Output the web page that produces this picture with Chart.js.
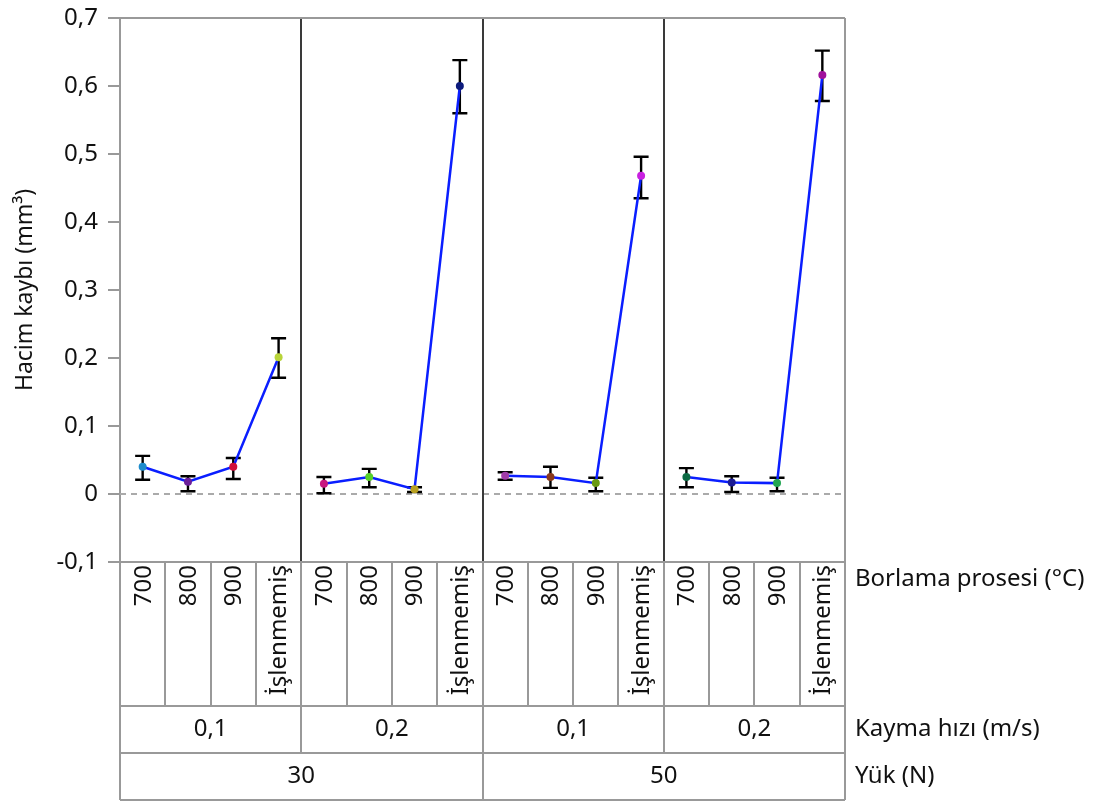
<!DOCTYPE html>
<html>
<head>
    <meta charset="utf-8" />
    <title>Hacim kaybı</title>
    <script src="https://cdn.jsdelivr.net/npm/chart.js"></script>
    <style>
        body { margin: 0; background: #fff; }
        canvas { display: block; }
    </style>
</head>
<body>
    <canvas id="chart" width="1103" height="804"></canvas>
    <script>
        // factor levels
        const borlama = ['700', '800', '900', 'İşlenmemiş'];
        const kayma = ['0,1', '0,2', '0,1', '0,2'];
        const yuk = ['30', '50'];

        // mean volume loss (mm3) per group: yük_kayma
        const hacim_30_01 = [0.040, 0.018, 0.040, 0.201];
        const hacim_30_02 = [0.015, 0.025, 0.007, 0.600];
        const hacim_50_01 = [0.027, 0.025, 0.016, 0.468];
        const hacim_50_02 = [0.025, 0.017, 0.016, 0.616];

        // error bar limits
        const alt_30_01 = [0.021, 0.004, 0.022, 0.171];
        const ust_30_01 = [0.056, 0.026, 0.053, 0.229];
        const alt_30_02 = [0.001, 0.010, 0.003, 0.560];
        const ust_30_02 = [0.025, 0.037, 0.010, 0.638];
        const alt_50_01 = [0.021, 0.009, 0.004, 0.435];
        const ust_50_01 = [0.032, 0.040, 0.024, 0.496];
        const alt_50_02 = [0.010, 0.003, 0.004, 0.578];
        const ust_50_02 = [0.038, 0.026, 0.024, 0.652];

        const renk_30_01 = ['#1e8ccc', '#6b1f9a', '#d0103c', '#b8d43a'];
        const renk_30_02 = ['#c8187e', '#58d12a', '#b8a020', '#0c1a7c'];
        const renk_50_01 = ['#a03ca8', '#8a3a1c', '#6a9a12', '#c820e0'];
        const renk_50_02 = ['#0c6a44', '#1c1c92', '#22a652', '#a0109c'];

        const groups = [
            { mean: hacim_30_01, lo: alt_30_01, hi: ust_30_01, col: renk_30_01 },
            { mean: hacim_30_02, lo: alt_30_02, hi: ust_30_02, col: renk_30_02 },
            { mean: hacim_50_01, lo: alt_50_01, hi: ust_50_01, col: renk_50_01 },
            { mean: hacim_50_02, lo: alt_50_02, hi: ust_50_02, col: renk_50_02 }
        ];

        const labels = [];
        groups.forEach(() => borlama.forEach(b => labels.push(b)));

        const datasets = groups.map((g, gi) => {
            const data = labels.map(() => null);
            const colors = labels.map(() => '#000');
            g.mean.forEach((v, i) => {
                data[gi * 4 + i] = v;
                colors[gi * 4 + i] = g.col[i];
            });
            return {
                data: data,
                borderColor: '#0a1eff',
                borderWidth: 2.5,
                pointBackgroundColor: colors,
                pointBorderColor: colors,
                pointRadius: 4,
                pointBorderWidth: 0,
                spanGaps: false,
                tension: 0
            };
        });

        const FONT = '"Noto Sans", "Open Sans", sans-serif';
        const TABLE_ROWS = [562, 706, 753, 800];

        const decorations = {
            id: 'decorations',
            beforeDatasetsDraw(chart) {
                const { ctx, chartArea: a, scales: { x, y } } = chart;
                ctx.save();
                // zero reference line
                ctx.strokeStyle = '#aaa';
                ctx.lineWidth = 2;
                ctx.setLineDash([6, 5]);
                ctx.beginPath();
                ctx.moveTo(a.left, y.getPixelForValue(0));
                ctx.lineTo(a.right, y.getPixelForValue(0));
                ctx.stroke();
                ctx.setLineDash([]);

                // panel separators
                ctx.strokeStyle = '#3a3a3a';
                ctx.lineWidth = 2;
                const step = (a.right - a.left) / labels.length;
                for (let p = 1; p < 4; p++) {
                    const xx = Math.round(a.left + p * 4 * step);
                    ctx.beginPath();
                    ctx.moveTo(xx, a.top);
                    ctx.lineTo(xx, a.bottom);
                    ctx.stroke();
                }

                // error bars
                ctx.strokeStyle = '#000';
                ctx.lineWidth = 2.4;
                groups.forEach((g, gi) => {
                    g.mean.forEach((v, i) => {
                        const xx = x.getPixelForValue(gi * 4 + i);
                        const yl = y.getPixelForValue(g.lo[i]);
                        const yh = y.getPixelForValue(g.hi[i]);
                        ctx.beginPath();
                        ctx.moveTo(xx, yl); ctx.lineTo(xx, yh);
                        ctx.moveTo(xx - 7.5, yl); ctx.lineTo(xx + 7.5, yl);
                        ctx.moveTo(xx - 7.5, yh); ctx.lineTo(xx + 7.5, yh);
                        ctx.stroke();
                    });
                });
                ctx.restore();
            },
            afterDraw(chart) {
                const { ctx, chartArea: a } = chart;
                const step = (a.right - a.left) / labels.length;
                const [r0, r1, r2, r3] = TABLE_ROWS;
                ctx.save();
                ctx.strokeStyle = '#999';
                ctx.lineWidth = 2;

                // outer frame
                ctx.beginPath();
                ctx.moveTo(a.left, a.top); ctx.lineTo(a.right, a.top);
                ctx.moveTo(a.right, a.top); ctx.lineTo(a.right, r3);
                ctx.moveTo(a.left, r0); ctx.lineTo(a.left, r3);
                ctx.moveTo(a.left, r3); ctx.lineTo(a.right, r3);
                [r0, r1, r2].forEach(r => { ctx.moveTo(a.left, r); ctx.lineTo(a.right, r); });
                // row 1 dividers
                for (let i = 1; i < labels.length; i++) {
                    const xx = Math.round(a.left + i * step);
                    ctx.moveTo(xx, r0); ctx.lineTo(xx, r1);
                }
                // row 2 dividers
                for (let p = 1; p < 4; p++) {
                    const xx = Math.round(a.left + p * 4 * step);
                    ctx.moveTo(xx, r1); ctx.lineTo(xx, r2);
                }
                // row 3 divider
                const mid = Math.round(a.left + 8 * step);
                ctx.moveTo(mid, r2); ctx.lineTo(mid, r3);
                ctx.stroke();

                ctx.fillStyle = '#111';
                ctx.font = '24px ' + FONT;
                // rotated borlama labels
                labels.forEach((lab, i) => {
                    const cx = a.left + (i + 0.5) * step;
                    ctx.save();
                    ctx.translate(cx, r0 + 3);
                    ctx.rotate(-Math.PI / 2);
                    ctx.textAlign = 'right';
                    ctx.textBaseline = 'middle';
                    ctx.fillText(lab, 0, 1);
                    ctx.restore();
                });
                ctx.textAlign = 'center';
                ctx.textBaseline = 'middle';
                kayma.forEach((k, p) => {
                    ctx.fillText(k, a.left + (p * 4 + 2) * step, (r1 + r2) / 2);
                });
                yuk.forEach((k, p) => {
                    ctx.fillText(k, a.left + (p * 8 + 4) * step, (r2 + r3) / 2);
                });
                // row titles
                ctx.textAlign = 'left';
                ctx.fillText('Borlama prosesi (°C)', a.right + 10, r0 + 17);
                ctx.fillText('Kayma hızı (m/s)', a.right + 10, (r1 + r2) / 2);
                ctx.fillText('Yük (N)', a.right + 10, (r2 + r3) / 2);
                ctx.restore();
            }
        };

        new Chart(document.getElementById('chart'), {
            type: 'line',
            data: { labels: labels, datasets: datasets },
            options: {
                responsive: false,
                animation: false,
                layout: { padding: { top: 18, right: 258, bottom: 242, left: 0 } },
                plugins: { legend: { display: false }, tooltip: { enabled: false } },
                scales: {
                    x: {
                        type: 'category',
                        offset: true,
                        display: false
                    },
                    y: {
                        min: -0.1,
                        max: 0.7,
                        afterFit: s => { s.width = 120; s.paddingTop = 0; s.paddingBottom = 0; },
                        border: { display: true, color: '#999', width: 2 },
                        grid: { drawOnChartArea: false, drawTicks: true, tickLength: 12, color: '#999', lineWidth: 2 },
                        ticks: {
                            stepSize: 0.1,
                            padding: 10,
                            color: '#111',
                            font: { family: FONT, size: 24 },
                            callback: v => {
                                const r = Math.round(v * 10) / 10;
                                return r === 0 ? '0' : r.toFixed(1).replace('.', ',');
                            }
                        },
                        title: {
                            display: true,
                            text: 'Hacim kaybı (mm³)',
                            color: '#111',
                            font: { family: FONT, size: 23 },
                            padding: { top: 12, bottom: 0 }
                        }
                    }
                }
            },
            plugins: [decorations]
        });
    </script>
</body>
</html>
